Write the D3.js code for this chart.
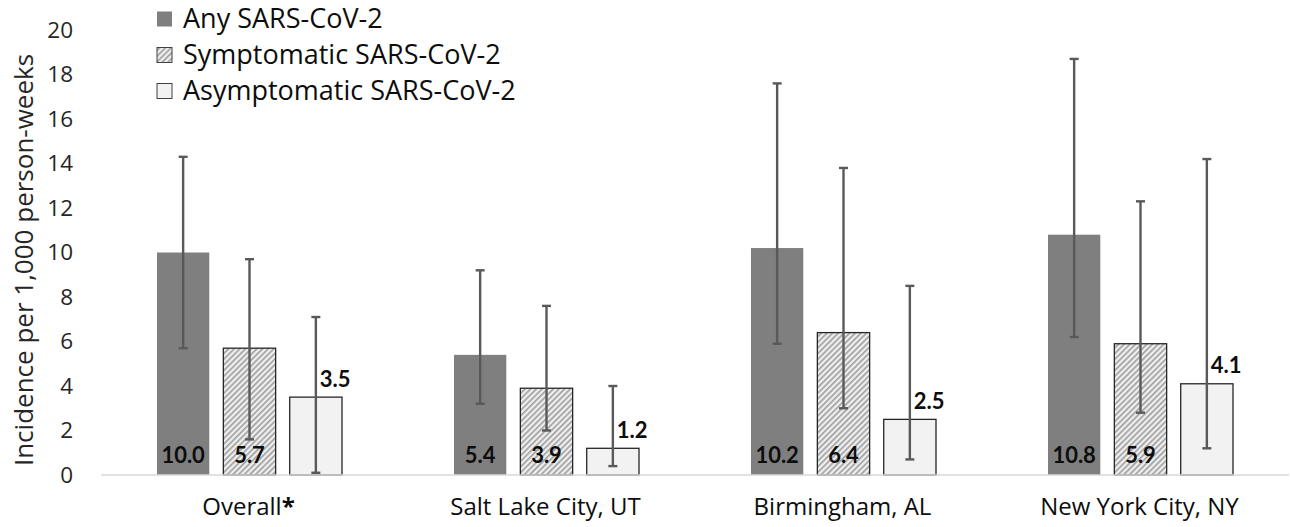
<!DOCTYPE html>
<html>
<head>
<meta charset="utf-8">
<script src="https://cdn.jsdelivr.net/npm/d3@7"></script>
<style>
  html, body { margin: 0; padding: 0; background: #fff; }
  svg { display: block; font-family: "Open Sans", sans-serif; }
</style>
</head>
<body>
<svg id="chart" width="1290" height="527"></svg>
<script>
// ---- data ----
const categories = ["Overall", "Salt Lake City, UT", "Birmingham, AL", "New York City, NY"];
const series = ["Any SARS-CoV-2", "Symptomatic SARS-CoV-2", "Asymptomatic SARS-CoV-2"];
const anyValues = [10.0, 5.4, 10.2, 10.8];
const anyLower  = [5.7, 3.2, 5.9, 6.2];
const anyUpper  = [14.3, 9.2, 17.6, 18.7];
const symValues = [5.7, 3.9, 6.4, 5.9];
const symLower  = [1.6, 2.0, 3.0, 2.8];
const symUpper  = [9.7, 7.6, 13.8, 12.3];
const asyValues = [3.5, 1.2, 2.5, 4.1];
const asyLower  = [0.1, 0.4, 0.7, 1.2];
const asyUpper  = [7.1, 4.0, 8.5, 14.2];
const yTicks = [0, 2, 4, 6, 8, 10, 12, 14, 16, 18, 20];
const yTitle = "Incidence per 1,000 person-weeks";

const seriesData = [
  { name: series[0], values: anyValues, lower: anyLower, upper: anyUpper },
  { name: series[1], values: symValues, lower: symLower, upper: symUpper },
  { name: series[2], values: asyValues, lower: asyLower, upper: asyUpper }
];

const rows = [];
categories.forEach((c, ci) => {
  seriesData.forEach((s, si) => {
    rows.push({ cat: c, ser: s.name, si, v: s.values[ci], lo: s.lower[ci], hi: s.upper[ci] });
  });
});

// ---- layout ----
const svg = d3.select("#chart");
const mLeft = 101, mRight = 1289, mTop = 30, mBottom = 475;

const y = d3.scaleLinear().domain([0, 20]).range([mBottom, mTop]);
const x0 = d3.scaleBand().domain(categories).range([mLeft, mRight]).padding(0);
const x1 = d3.scaleBand().domain(series).range([56, 241]).paddingInner(0.212).paddingOuter(0);

// pattern
const defs = svg.append("defs");
const pat = defs.append("pattern").attr("id", "hatch")
  .attr("patternUnits", "userSpaceOnUse").attr("width", 4).attr("height", 4)
  .attr("patternTransform", "rotate(45)");
pat.append("rect").attr("width", 4).attr("height", 4).attr("fill", "#efefef");
pat.append("rect").attr("x", 0).attr("width", 1.6).attr("height", 4).attr("fill", "#9c9c9c");

const fills = ["#7f7f7f", "url(#hatch)", "#f2f2f2"];
const strokes = ["none", "#262626", "#262626"];

// y axis
const yAxis = d3.axisLeft(y).tickValues(yTicks).tickSize(0).tickPadding(28).tickFormat(d3.format("d"));
const gy = svg.append("g").attr("transform", `translate(${mLeft},0)`).call(yAxis);
gy.select(".domain").remove();
gy.selectAll("text").attr("font-size", 22.5).attr("fill", "#262626")
  .attr("font-family", "'Open Sans', sans-serif");

// y title
svg.append("text")
  .attr("transform", `translate(24,${(50 + 470) / 2}) rotate(-90)`)
  .attr("text-anchor", "middle")
  .attr("dy", "0.35em")
  .attr("font-size", 26)
  .attr("fill", "#262626")
  .text(yTitle);

// bars
const groups = svg.append("g").selectAll("g").data(categories).join("g")
  .attr("transform", d => `translate(${x0(d)},0)`);

groups.selectAll("rect")
  .data(c => rows.filter(r => r.cat === c))
  .join("rect")
  .attr("x", d => x1(d.ser))
  .attr("y", d => y(d.v))
  .attr("width", x1.bandwidth())
  .attr("height", d => y(0) - y(d.v))
  .attr("fill", d => fills[d.si])
  .attr("stroke", d => strokes[d.si])
  .attr("stroke-width", 1.3);

// baseline
svg.append("line")
  .attr("x1", mLeft).attr("x2", mRight)
  .attr("y1", y(0)).attr("y2", y(0))
  .attr("stroke", "#d9d9d9").attr("stroke-width", 1.5);

// error bars
const eb = groups.selectAll("g.err")
  .data(c => rows.filter(r => r.cat === c))
  .join("g").attr("class", "err")
  .attr("stroke", "#595959").attr("stroke-width", 2.4);
const cx = d => x1(d.ser) + x1.bandwidth() / 2;
eb.append("line").attr("x1", cx).attr("x2", cx).attr("y1", d => y(d.lo)).attr("y2", d => y(d.hi));
eb.append("line").attr("x1", d => cx(d) - 4.5).attr("x2", d => cx(d) + 4.5).attr("y1", d => y(d.lo)).attr("y2", d => y(d.lo));
eb.append("line").attr("x1", d => cx(d) - 4.5).attr("x2", d => cx(d) + 4.5).attr("y1", d => y(d.hi)).attr("y2", d => y(d.hi));

// value labels
groups.selectAll("text.val")
  .data(c => rows.filter(r => r.cat === c))
  .join("text").attr("class", "val")
  .attr("x", d => d.si < 2 ? cx(d) : cx(d) + 4)
  .attr("y", d => d.si < 2 ? y(0) - 20 : y(d.v) - 18)
  .attr("dy", "0.35em")
  .attr("text-anchor", d => d.si < 2 ? "middle" : "start")
  .attr("font-family", "Lato, sans-serif")
  .attr("font-size", 22)
  .attr("font-weight", "bold")
  .attr("fill", "#0d0d0d")
  .text(d => d3.format(".1f")(d.v));

// x labels
const xl = svg.append("g").selectAll("text").data(categories).join("text")
  .attr("x", d => x0(d) + x0.bandwidth() / 2 - 1)
  .attr("y", 507)
  .attr("dy", "0.35em")
  .attr("text-anchor", "middle")
  .attr("font-size", 24)
  .attr("fill", "#0d0d0d");
xl.append("tspan").text(d => d);
xl.filter((d, i) => i === 0).append("tspan").attr("font-weight", "bold").text("*");

// legend
const lg = svg.append("g").selectAll("g").data(series).join("g")
  .attr("transform", (d, i) => `translate(157,${19 + i * 36})`);
lg.append("rect").attr("x", 0).attr("y", -7.5).attr("width", 15).attr("height", 15)
  .attr("fill", (d, i) => fills[i])
  .attr("stroke", (d, i) => i === 0 ? "none" : "#404040").attr("stroke-width", 1);
lg.append("text").attr("x", 26).attr("y", 0).attr("dy", "0.35em")
  .attr("font-size", 27).attr("fill", "#0d0d0d").text(d => d);
</script>
</body>
</html>
